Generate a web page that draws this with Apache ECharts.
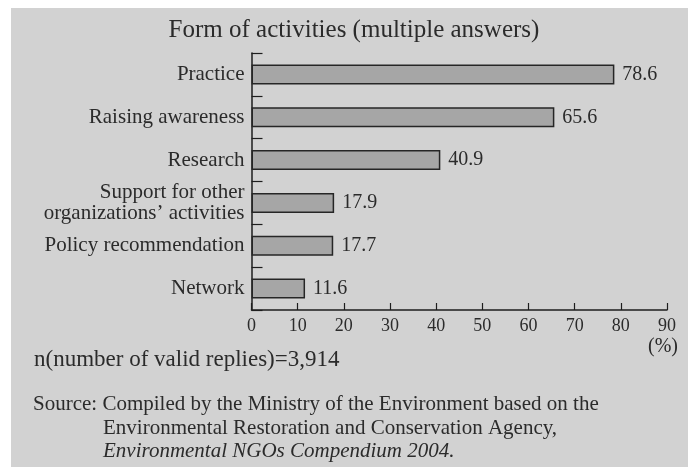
<!DOCTYPE html>
<html>
<head>
<meta charset="utf-8">
<script src="https://cdn.jsdelivr.net/npm/echarts@6/dist/echarts.min.js"></script>
<style>
  html, body { margin: 0; padding: 0; background: #ffffff; }
  #chart { width: 688px; height: 467px; }
</style>
</head>
<body>
<div id="chart"></div>
<script>
// Form of activities reported by environmental NGOs (multiple answers, %)
const categories = [
  'Practice',
  'Raising awareness',
  'Research',
  'Support for other\norganizations\u2019 activities',
  'Policy recommendation',
  'Network'
];
const shares = [78.6, 65.6, 40.9, 17.9, 17.7, 11.6];
const xTicks = [0, 10, 20, 30, 40, 50, 60, 70, 80, 90];

const titleText = 'Form of activities (multiple answers)';
const unitText = '(%)';
const sampleText = 'n(number of valid replies)=3,914';
const sourceLines = [
  'Source: Compiled by the Ministry of the Environment based on the',
  'Environmental Restoration and Conservation Agency,',
  'Environmental NGOs Compendium 2004.'
];

const serif = '"Liberation Serif", "DejaVu Serif", serif';
const ink = '#2b2b2b';

const chart = echarts.init(document.getElementById('chart'), null, { renderer: 'canvas' });

chart.setOption({
  animation: false,
  backgroundColor: '#ffffff',
  title: {
    text: titleText,
    left: 349,
    textAlign: 'center',
    top: 13,
    textStyle: { fontFamily: serif, fontSize: 25, fontWeight: 'normal', color: ink }
  },
  grid: { left: 251.5, right: 21, top: 53, bottom: 157, containLabel: false },
  xAxis: {
    type: 'value',
    min: xTicks[0],
    max: xTicks[xTicks.length - 1],
    interval: 10,
    axisLine: { show: true, lineStyle: { color: '#1e1e1e', width: 1.5 } },
    axisTick: { show: true, inside: true, length: 7, lineStyle: { color: '#1e1e1e', width: 1.2 } },
    splitLine: { show: false },
    axisLabel: {
      margin: 7,
      fontFamily: serif, fontSize: 18, color: ink,
      formatter: v => String(v)
    }
  },
  yAxis: {
    type: 'category',
    data: categories,
    inverse: true,
    axisLine: { show: true, lineStyle: { color: '#1e1e1e', width: 1.5 } },
    axisTick: { show: true, inside: true, length: 11, lineStyle: { color: '#1e1e1e', width: 1.2 } },
    axisLabel: {
      margin: 7,
      fontFamily: serif, fontSize: 21, color: ink,
      lineHeight: 21, align: 'right'
    }
  },
  series: [{
    type: 'bar',
    data: shares,
    barWidth: 20,
    itemStyle: { color: '#a6a6a6', borderColor: '#262626', borderWidth: 1.5 },
    label: {
      show: true,
      position: 'right',
      distance: 8,
      fontFamily: serif, fontSize: 20, color: ink,
      formatter: p => p.value.toFixed(1)
    }
  }],
  graphic: [
    {
      type: 'rect', z: -10, silent: true,
      shape: { x: 11, y: 8, width: 677, height: 459 },
      style: { fill: '#d2d2d2' }
    },
    {
      type: 'text', left: 648, top: 337,
      style: { text: unitText, font: '20px ' + serif, fill: ink }
    },
    {
      type: 'text', left: 34, top: 348,
      style: { text: sampleText, font: '23px ' + serif, fill: ink }
    },
    {
      type: 'text', left: 33, top: 394,
      style: { text: sourceLines[0], font: '21px ' + serif, fill: ink }
    },
    {
      type: 'text', left: 103, top: 418,
      style: { text: sourceLines[1], font: '21px ' + serif, fill: ink }
    },
    {
      type: 'text', left: 103, top: 441,
      style: { text: sourceLines[2], font: 'italic 21px ' + serif, fill: ink }
    }
  ]
});
</script>
</body>
</html>
